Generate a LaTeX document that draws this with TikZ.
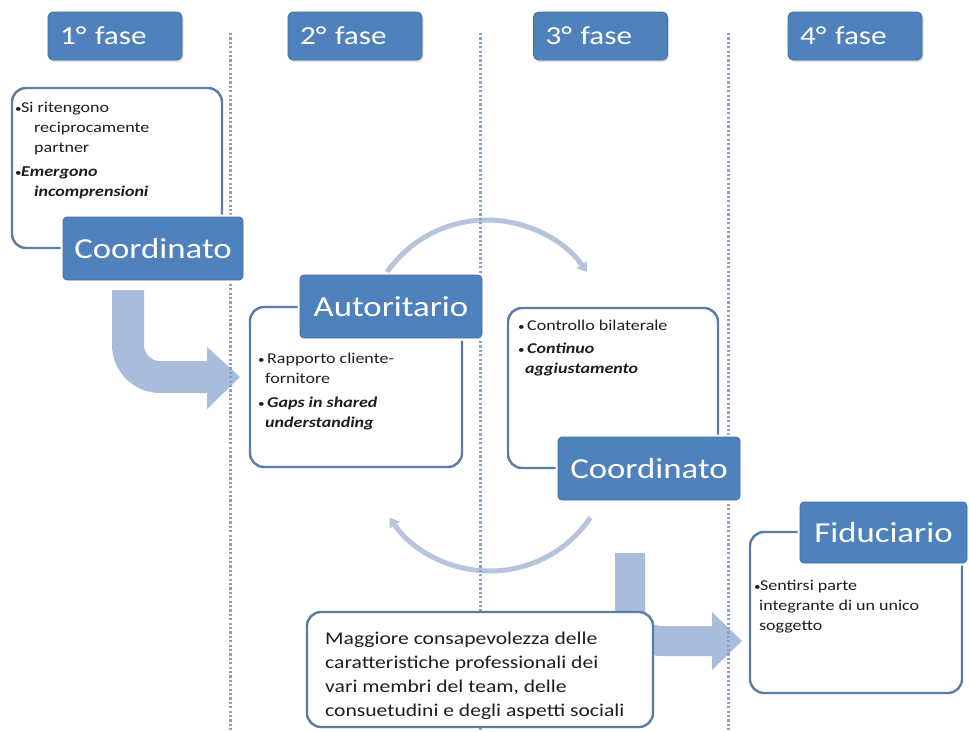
\documentclass[tikz,border=0pt]{standalone}
\usepackage{fontspec}
\setmainfont{Carlito}[FakeStretch=1.2]
\usetikzlibrary{arrows.meta,shadows}
\definecolor{hdrblue}{HTML}{4F81BD}
\definecolor{hdredge}{HTML}{42709F}
\definecolor{boxedge}{HTML}{5A7CA6}
\definecolor{arrowfill}{HTML}{AABCDB}
\definecolor{arcgray}{HTML}{B8C4DA}
\definecolor{dotblue}{HTML}{8AA2C6}
\definecolor{txtdark}{HTML}{1E1E1E}
\newcommand{\bul}[1]{\makebox[#1][l]{\raisebox{0.5pt}{\fontsize{11}{11}\selectfont •}}}
\begin{document}
\begin{tikzpicture}[x=1pt,y=-1pt,
  header/.style={rectangle, rounded corners=5pt, fill=hdrblue, draw=hdredge, line width=0.8pt,
    text=white, font=\fontsize{26}{30}\selectfont, minimum width=134pt, minimum height=48pt,
    text width=110pt, align=left, inner sep=0pt,
    drop shadow={opacity=0.25, shadow xshift=1.5pt, shadow yshift=-2pt}},
  tag/.style={rectangle, rounded corners=4pt, fill=hdrblue, draw=hdredge, line width=0.8pt,
    preaction={draw=white, line width=5pt},
    text=white, font=\fontsize{29}{33}\selectfont, minimum height=63pt, inner sep=0pt, align=center},
  cardbox/.style={rectangle, rounded corners=14pt, draw=boxedge, line width=2.4pt, fill=white, inner sep=0pt},
  txt/.style={text=txtdark, font=\fontsize{15}{20}\selectfont, align=left, inner sep=0pt, anchor=north west},
  bigtxt/.style={text=txtdark, font=\fontsize{18}{24}\selectfont, align=left, inner sep=0pt, anchor=north west},
  dotline/.style={draw=dotblue, line width=3pt, dash pattern=on 2.2pt off 2.2pt},
  arcline/.style={draw=arcgray, line width=5pt, -{Triangle[length=9pt,width=12pt]}},
  bentarrow/.style={fill=arrowfill, draw=none}
]
\fill[white] (0,0) rectangle (969,731);
\useasboundingbox (0,0) rectangle (969,731);

% circular arcs
\coordinate (ca) at (487,342);
\coordinate (cb) at (490,450);
\draw[arcline] ([shift={(-145:122)}]ca) arc[start angle=-145, end angle=-35, radius=122];
\draw[arcline] ([shift={(34:121)}]cb) arc[start angle=34, end angle=146, radius=121];

% bent arrows
\fill[bentarrow] (112,290) -- (144,290) -- (144,345)
  .. controls (144,353.8) and (151.2,361) .. (160,361) -- (207,361) -- (207,347)
  -- (240,377) -- (207,409) -- (207,393) -- (160,393)
  .. controls (133.6,393) and (112,371.4) .. (112,345) -- cycle;
\fill[bentarrow] (615,553) -- (645,553) -- (645,610)
  .. controls (645,618.8) and (652.2,626) .. (661,626) -- (712,626) -- (712,612)
  -- (742,641) -- (712,670) -- (712,656) -- (661,656)
  .. controls (635.7,656) and (615,635.3) .. (615,610) -- cycle;

% dotted separators
\coordinate (d1t) at (230,33); \coordinate (d1b) at (230,731);
\coordinate (d2t) at (480,33); \coordinate (d2b) at (480,731);
\coordinate (d3t) at (728,33); \coordinate (d3b) at (728,731);
\draw[dotline] (d1t) -- (d1b);
\draw[dotline] (d2t) -- (d2b);
\draw[dotline] (d3t) -- (d3b);

% headers
\node[header] (h1) at (115,36) {1° fase};
\node[header] (h2) at (355,36) {2° fase};
\node[header] (h3) at (600.5,36) {3° fase};
\node[header] (h4) at (855,36) {4° fase};

% cards
\node[cardbox, minimum width=210pt, minimum height=160pt] (b1) at (117,168) {};
\node[cardbox, minimum width=212pt, minimum height=160pt] (b2) at (356,387) {};
\node[cardbox, minimum width=210pt, minimum height=160pt] (b3) at (613,388) {};
\node[cardbox, minimum width=212pt, minimum height=161pt] (b4) at (856,612.5) {};
\node[cardbox, minimum width=346pt, minimum height=115pt] (b5) at (480,669.5) {};

% tags
\node[tag, minimum width=180pt] (l1) at (153,248.5) {Coordinato};
\node[tag, minimum width=182pt] (l2) at (391,306.5) {Autoritario};
\node[tag, minimum width=182pt] (l3) at (649,468.5) {Coordinato};
\node[tag, minimum width=167pt, minimum height=61pt] (l4) at (883.5,532.5) {Fiduciario};

% texts
\node[txt] (t1) at (15,102) {\bul{6pt}Si ritengono\\\hspace*{19pt}reciprocamente\\\hspace*{19pt}partner\\[4pt]
  \bul{6pt}\textbf{\textit{Emergono}}\\\hspace*{19pt}\textbf{\textit{incomprensioni}}};
\node[txt] (t2) at (258,353) {\bul{9pt}Rapporto cliente-\\\hspace*{7pt}fornitore\\[4pt]
  \bul{9pt}\textbf{\textit{Gaps in shared}}\\\hspace*{7pt}\textbf{\textit{understanding}}};
\node[txt] (t3) at (518,320) {\bul{9pt}Controllo bilaterale\\[3pt]
  \bul{9pt}\textbf{\textit{Continuo}}\\\hspace*{7pt}\textbf{\textit{aggiustamento}}};
\node[txt] (t4) at (754,580) {\bul{6pt}Sentirsi parte\\\hspace*{5pt}integrante di un unico\\\hspace*{5pt}soggetto};
\node[bigtxt] (t5) at (325,632) {Maggiore consapevolezza delle\\caratteristiche professionali dei\\vari membri del team, delle\\consuetudini e degli aspetti sociali};
\end{tikzpicture}
\end{document}
